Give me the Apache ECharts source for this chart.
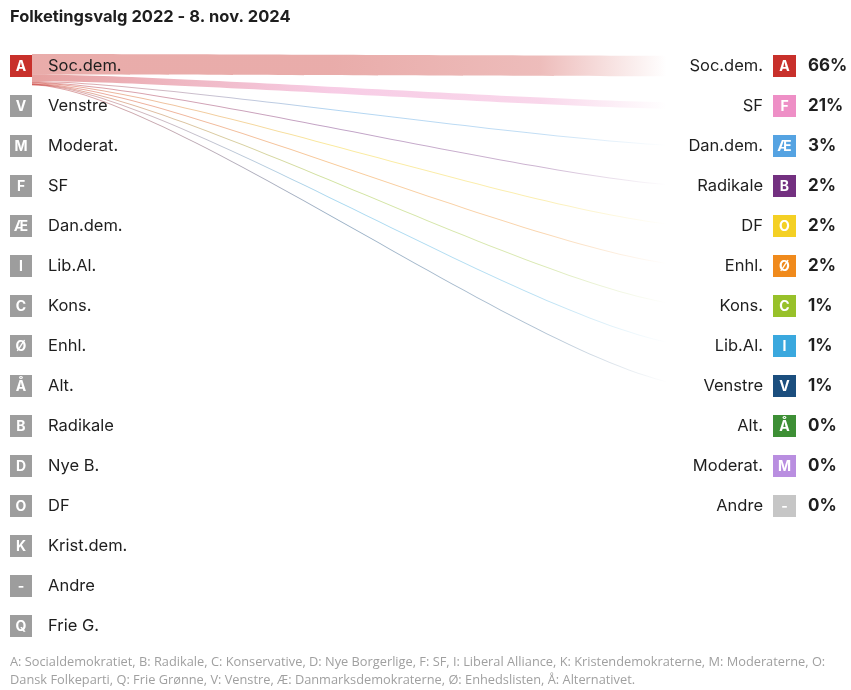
<!DOCTYPE html>
<html>
<head>
<meta charset="UTF-8">
<title>Folketingsvalg 2022 - 8. nov. 2024</title>
<script src="https://cdn.jsdelivr.net/npm/echarts@6/dist/echarts.min.js"></script>
<style>body{margin:0;background:#fff}</style>
</head>
<body>
<div id="main" style="width:851px;height:690px"></div>
<script>
// venstre side: partier ved valget 2022
var leftNames = ['Soc.dem.', 'Venstre', 'Moderat.', 'SF', 'Dan.dem.', 'Lib.Al.', 'Kons.', 'Enhl.', 'Alt.', 'Radikale', 'Nye B.', 'DF', 'Krist.dem.', 'Andre', 'Frie G.'];
var leftLetters = ['A', 'V', 'M', 'F', 'Æ', 'I', 'C', 'Ø', 'Å', 'B', 'D', 'O', 'K', '-', 'Q'];
var activeLeft = 0; // Soc.dem. er valgt

// højre side: hvor Soc.dem.-vælgerne er nu (8. nov. 2024)
var rightNames = ['Soc.dem.', 'SF', 'Dan.dem.', 'Radikale', 'DF', 'Enhl.', 'Kons.', 'Lib.Al.', 'Venstre', 'Alt.', 'Moderat.', 'Andre'];
var rightLetters = ['A', 'F', 'Æ', 'B', 'O', 'Ø', 'C', 'I', 'V', 'Å', 'M', '-'];
var rightShares = [66, 21, 3, 2, 2, 2, 1, 1, 1, 0, 0, 0];
var rightColors = ['#c8302b', '#ee8fc6', '#55a3e2', '#733080', '#f4d024', '#f08a1c', '#98c12a', '#3aa8de', '#1b4e7e', '#3d8f35', '#b98ee0', '#c6c6c6'];

var activeColor = '#c8302b';
var greyColor = '#9d9d9d';
var txt = '#1e1e1e';
var font = 'Inter, "Noto Sans", sans-serif';
var pxPerPct = 0.31;

function rgba(hex, a) {
    var n = parseInt(hex.slice(1), 16);
    return 'rgba(' + (n >> 16) + ',' + ((n >> 8) & 255) + ',' + (n & 255) + ',' + a + ')';
}

var myChart = echarts.init(document.getElementById('main'));

var option = {
    animation: false,
    backgroundColor: '#fff',
    grid: { left: 32, right: 151, top: 46, bottom: 44 },
    xAxis: { type: 'value', min: 0, max: 1, show: false },
    yAxis: { type: 'value', min: 0, max: 15, inverse: true, show: false },
    graphic: [
        {
            type: 'text', left: 10, top: 9,
            style: { text: 'Folketingsvalg 2022 - 8. nov. 2024', font: 'bold 16.5px ' + font, fill: txt }
        },
        {
            type: 'text', left: 10, top: 653,
            style: {
                text: 'A: Socialdemokratiet, B: Radikale, C: Konservative, D: Nye Borgerlige, F: SF, I: Liberal Alliance, K: Kristendemokraterne, M: Moderaterne, O: Dansk Folkeparti, Q: Frie Grønne, V: Venstre, Æ: Danmarksdemokraterne, Ø: Enhedslisten, Å: Alternativet.',
                width: 835, overflow: 'break', lineHeight: 18,
                font: '12.8px "Open Sans", sans-serif', fill: '#a0a0a0'
            }
        }
    ],
    series: [
        {
            // strømme fra Soc.dem. til nuværende partier
            type: 'custom',
            clip: false,
            data: rightShares.map(function (v, i) { return [i, v]; }),
            renderItem: function (params, api) {
                var i = params.dataIndex;
                var share = rightShares[i];
                if (!share) return null;
                var cum = 0;
                for (var k = 0; k < i; k++) cum += rightShares[k];
                var p0 = api.coord([0, activeLeft + 0.5]);
                var p1 = api.coord([1, i + 0.5]);
                var h = Math.max(share * pxPerPct, 1);
                var t0 = p0[1] - 12 + cum * pxPerPct, b0 = t0 + h;
                var t1 = p1[1] - h / 2, b1 = t1 + h;
                var L = p1[0] - p0[0];
                var c0 = p0[0] + L * 0.2, c1 = p1[0] - L * 0.2;
                var d = 'M' + p0[0] + ' ' + t0 +
                    ' C' + c0 + ' ' + t0 + ' ' + c1 + ' ' + t1 + ' ' + p1[0] + ' ' + t1 +
                    ' L' + p1[0] + ' ' + b1 +
                    ' C' + c1 + ' ' + b1 + ' ' + c0 + ' ' + b0 + ' ' + p0[0] + ' ' + b0 + ' Z';
                var a = i === 0 ? 0.4 : 0.45;
                return {
                    type: 'path',
                    shape: { pathData: d },
                    style: {
                        fill: new echarts.graphic.LinearGradient(0, 0, 1, 0, [
                            { offset: 0, color: rgba(activeColor, a) },
                            { offset: 0.45, color: rgba(rightColors[i], a) },
                            { offset: 0.76, color: rgba(rightColors[i], a * 0.8) },
                            { offset: 0.95, color: rgba(rightColors[i], 0) },
                            { offset: 1, color: rgba(rightColors[i], 0) }
                        ])
                    }
                };
            }
        },
        {
            // venstre kolonne
            type: 'custom',
            clip: false,
            data: leftNames.map(function (n, i) { return [0, i + 0.5]; }),
            renderItem: function (params, api) {
                var i = params.dataIndex;
                var p = api.coord([api.value(0), api.value(1)]);
                return {
                    type: 'group',
                    children: [
                        {
                            type: 'rect',
                            shape: { x: p[0] - 22, y: p[1] - 11, width: 22, height: 22 },
                            style: { fill: i === activeLeft ? activeColor : greyColor }
                        },
                        {
                            type: 'text',
                            style: {
                                x: p[0] - 11, y: p[1] + 1, text: leftLetters[i],
                                align: 'center', verticalAlign: 'middle',
                                font: 'bold 14px ' + font, fill: '#fff'
                            }
                        },
                        {
                            type: 'text',
                            style: {
                                x: p[0] + 16, y: p[1], text: leftNames[i],
                                align: 'left', verticalAlign: 'middle',
                                font: '16.5px ' + font, fill: txt
                            }
                        }
                    ]
                };
            }
        },
        {
            // højre kolonne
            type: 'custom',
            clip: false,
            data: rightNames.map(function (n, i) { return [1, i + 0.5]; }),
            renderItem: function (params, api) {
                var i = params.dataIndex;
                var p = api.coord([api.value(0), api.value(1)]);
                return {
                    type: 'group',
                    children: [
                        {
                            type: 'text',
                            style: {
                                x: p[0] + 63, y: p[1], text: rightNames[i],
                                align: 'right', verticalAlign: 'middle',
                                font: '16.5px ' + font, fill: txt
                            }
                        },
                        {
                            type: 'rect',
                            shape: { x: p[0] + 73, y: p[1] - 11, width: 23, height: 22 },
                            style: { fill: rightColors[i] }
                        },
                        {
                            type: 'text',
                            style: {
                                x: p[0] + 84.5, y: p[1] + 1, text: rightLetters[i],
                                align: 'center', verticalAlign: 'middle',
                                font: 'bold 14px ' + font, fill: '#fff'
                            }
                        },
                        {
                            type: 'text',
                            style: {
                                x: p[0] + 108, y: p[1], text: rightShares[i] + '%',
                                align: 'left', verticalAlign: 'middle',
                                font: 'bold 17px ' + font, fill: txt
                            }
                        }
                    ]
                };
            }
        }
    ]
};
myChart.setOption(option);
</script>
</body>
</html>
